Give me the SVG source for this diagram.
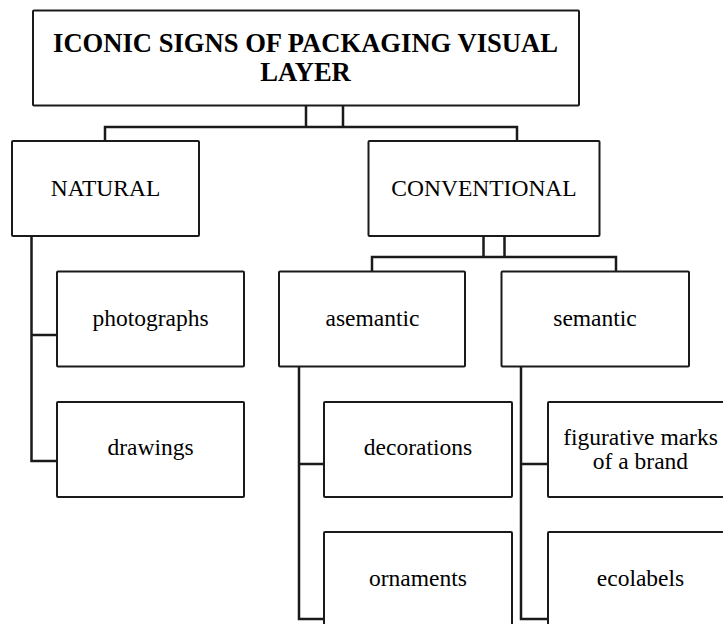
<svg xmlns="http://www.w3.org/2000/svg" width="723" height="624" viewBox="0 0 723 624">
<style>
.box{fill:#fff;stroke:#1a1a1a;stroke-width:2}
.conn{fill:none;stroke:#1a1a1a;stroke-width:2.5;stroke-linejoin:miter}
.t{font-family:"Liberation Serif","Times New Roman",serif;font-size:23.5px;fill:#000;text-anchor:middle}
.title{font-family:"Liberation Serif","Times New Roman",serif;font-size:26.6px;font-weight:bold;fill:#000;text-anchor:middle}
</style>
<rect width="723" height="624" fill="#fff"/>
<g id="connectors">
<path class="conn" d="M306,106 V127 M343,106 V127 M105,141 V127 H517 V141"/>
<path class="conn" d="M31.5,236 V461 H57 M31.5,335 H57"/>
<path class="conn" d="M483.5,236 V257 M504.5,236 V257 M372,271.5 V257 H616 V271.5"/>
<path class="conn" d="M299,366.5 V619 H324 M299,464 H324"/>
<path class="conn" d="M521,366.5 V619 H548 M521,464 H548"/>
</g>
<g id="title">
<rect class="box" x="33" y="10.5" width="546" height="95" rx="1"/>
<text class="title" x="305.5" y="51.7">ICONIC SIGNS OF PACKAGING VISUAL</text>
<text class="title" x="305.5" y="81">LAYER</text>
</g>
<g id="natural">
<rect class="box" x="12" y="141" width="187" height="95" rx="1"/>
<text class="t" x="105.5" y="196.3">NATURAL</text>
</g>
<g id="conventional">
<rect class="box" x="368.5" y="141" width="231" height="95" rx="1"/>
<text class="t" x="484" y="196">CONVENTIONAL</text>
</g>
<g id="photographs">
<rect class="box" x="57" y="271.5" width="187" height="95" rx="1"/>
<text class="t" x="150.5" y="326">photographs</text>
</g>
<g id="drawings">
<rect class="box" x="57" y="402" width="187" height="95" rx="1"/>
<text class="t" x="150.5" y="455">drawings</text>
</g>
<g id="asemantic">
<rect class="box" x="279" y="271.5" width="186" height="95" rx="1"/>
<text class="t" x="372.5" y="325.7">asemantic</text>
</g>
<g id="semantic">
<rect class="box" x="501.5" y="271.5" width="187.5" height="95" rx="1"/>
<text class="t" x="595" y="325.7">semantic</text>
</g>
<g id="decorations">
<rect class="box" x="324" y="402" width="188" height="95" rx="1"/>
<text class="t" x="418" y="455">decorations</text>
</g>
<g id="ornaments">
<rect class="box" x="324" y="532" width="188" height="100" rx="1"/>
<text class="t" x="418" y="585.7">ornaments</text>
</g>
<g id="figurative">
<rect class="box" x="548" y="402" width="185" height="95" rx="1"/>
<text class="t" x="640.5" y="445">figurative marks</text>
<text class="t" x="640.5" y="469">of a brand</text>
</g>
<g id="ecolabels">
<rect class="box" x="548" y="532" width="185" height="100" rx="1"/>
<text class="t" x="640.5" y="585.5">ecolabels</text>
</g>
</svg>
